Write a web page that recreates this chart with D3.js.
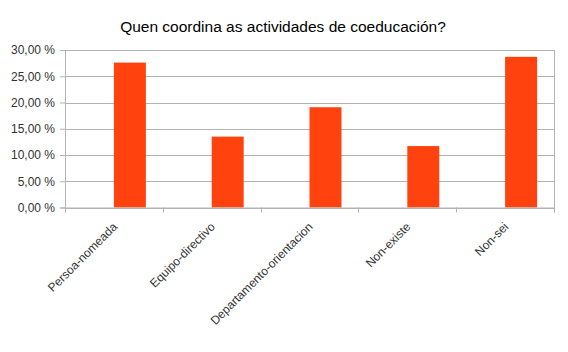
<!DOCTYPE html>
<html>
<head>
<meta charset="utf-8">
<script src="https://cdn.jsdelivr.net/npm/d3@7"></script>
<style>
  body { margin: 0; background: #fff; }
  text { font-family: "Liberation Sans", Arial, sans-serif; fill: #333; }
</style>
</head>
<body>
<div id="chart"></div>
<script>
// chart data
var categories = ["Persoa-nomeada", "Equipo-directivo", "Departamento-orientacion", "Non-existe", "Non-sei"];
var values = [27.6, 13.5, 19.1, 11.7, 28.7];
var yTicks = [0, 5, 10, 15, 20, 25, 30];
var title = "Quen coordina as actividades de coeducación?";

var W = 568, H = 352;
var margin = { top: 50, right: 14, bottom: 144.5, left: 65 };
var width = W - margin.left - margin.right,
    height = H - margin.top - margin.bottom;

var svg = d3.select("#chart").append("svg")
    .attr("width", W)
    .attr("height", H);

svg.append("text")
    .attr("x", 283)
    .attr("y", 32)
    .attr("text-anchor", "middle")
    .style("font-size", "15.5px")
    .style("fill", "#000")
    .text(title);

var g = svg.append("g")
    .attr("transform", "translate(" + margin.left + "," + margin.top + ")");

var x = d3.scaleBand()
    .domain(categories)
    .range([0, width]);

var y = d3.scaleLinear()
    .domain([0, 30])
    .range([height, 0]);

// gridlines
g.selectAll(".grid")
    .data(yTicks)
    .enter().append("line")
    .attr("class", "grid")
    .attr("x1", 0).attr("x2", width)
    .attr("y1", d => Math.round(y(d)) + 0.5)
    .attr("y2", d => Math.round(y(d)) + 0.5)
    .attr("stroke", "#b3b3b3");

// y axis
var yAxis = d3.axisLeft(y)
    .tickValues(yTicks)
    .tickSize(5)
    .tickPadding(5)
    .tickFormat(d => d3.format(".2f")(d).replace(".", ",") + " %");

var ya = g.append("g").call(yAxis);
ya.select(".domain").attr("stroke", "#b3b3b3");
ya.selectAll(".tick line").attr("stroke", "#b3b3b3");
ya.selectAll("text")
    .style("font-size", "12px")
    .style("font-family", "'Liberation Sans', Arial, sans-serif")
    .attr("fill", "#333");

// right border
g.append("line")
    .attr("x1", width + 0.5).attr("x2", width + 0.5)
    .attr("y1", 0).attr("y2", height + 5)
    .attr("stroke", "#b3b3b3");

// bars (offset to the right half of each category, as in the original)
var barW = x.bandwidth() * 0.327;
g.selectAll(".bar")
    .data(values)
    .enter().append("rect")
    .attr("class", "bar")
    .attr("x", (d, i) => x(categories[i]) + x.bandwidth() / 2)
    .attr("width", barW)
    .attr("y", d => y(d))
    .attr("height", d => height - y(d))
    .attr("fill", "#ff420e");

// x axis
g.append("line")
    .attr("x1", 0).attr("x2", width)
    .attr("y1", height + 0.5).attr("y2", height + 0.5)
    .attr("stroke", "#b3b3b3");

var bounds = categories.map(c => x(c)).concat([width]);
g.selectAll(".xtick")
    .data(bounds)
    .enter().append("line")
    .attr("class", "xtick")
    .attr("x1", d => Math.round(d) + 0.5).attr("x2", d => Math.round(d) + 0.5)
    .attr("y1", height).attr("y2", height + 5)
    .attr("stroke", "#b3b3b3");

g.selectAll(".xlabel")
    .data(categories)
    .enter().append("text")
    .attr("class", "xlabel")
    .attr("text-anchor", "end")
    .style("font-size", "12px")
    .attr("transform", d => "translate(" + (x(d) + x.bandwidth() / 2 + 4) + "," + (height + 20) + ") rotate(-45)")
    .text(d => d);
</script>
</body>
</html>
